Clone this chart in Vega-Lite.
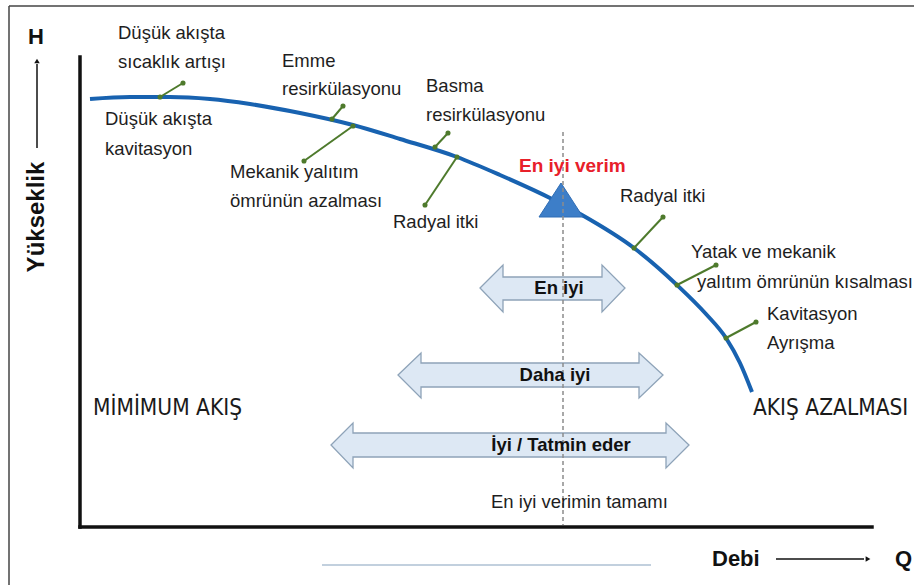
{
  "$schema": "https://vega.github.io/schema/vega-lite/v6.json",
  "width": 914,
  "height": 585,
  "padding": 0,
  "autosize": {"type": "none"},
  "background": "white",
  "view": {"stroke": null},
  "config": {"font": "Liberation Sans"},
  "datasets": {
    "frame": [
      {"x": 9, "y": 6, "x2": 914, "y2": 6},
      {"x": 9, "y": 6, "x2": 9, "y2": 585}
    ],
    "axes": [
      {"x": 80, "y": 57, "x2": 80, "y2": 527},
      {"x": 80, "y": 527, "x2": 872, "y2": 527}
    ],
    "smallArrows": [
      {"x": 37, "y": 148, "x2": 37, "y2": 64},
      {"x": 776, "y": 559, "x2": 864, "y2": 559}
    ],
    "headUp": [{"x": 37, "y": 61}],
    "headRight": [{"x": 868, "y": 559}],
    "bottomLine": [{"x": 322, "y": 565, "x2": 651, "y2": 565}],
    "blockArrows": [
      {"arrow": "En iyi", "x": 480, "y": 288, "y2": 288},
      {"arrow": "En iyi", "x": 503, "y": 265, "y2": 312},
      {"arrow": "En iyi", "x": 503, "y": 277, "y2": 300},
      {"arrow": "En iyi", "x": 602, "y": 277, "y2": 300},
      {"arrow": "En iyi", "x": 602, "y": 265, "y2": 312},
      {"arrow": "En iyi", "x": 625, "y": 288, "y2": 288},
      {"arrow": "Daha iyi", "x": 398, "y": 375, "y2": 375},
      {"arrow": "Daha iyi", "x": 421, "y": 353, "y2": 398},
      {"arrow": "Daha iyi", "x": 421, "y": 363, "y2": 387},
      {"arrow": "Daha iyi", "x": 639, "y": 363, "y2": 387},
      {"arrow": "Daha iyi", "x": 639, "y": 353, "y2": 398},
      {"arrow": "Daha iyi", "x": 663, "y": 375, "y2": 375},
      {"arrow": "İyi", "x": 331, "y": 445, "y2": 445},
      {"arrow": "İyi", "x": 353, "y": 423, "y2": 468},
      {"arrow": "İyi", "x": 353, "y": 433, "y2": 457},
      {"arrow": "İyi", "x": 666, "y": 433, "y2": 457},
      {"arrow": "İyi", "x": 666, "y": 423, "y2": 468},
      {"arrow": "İyi", "x": 689, "y": 445, "y2": 445}
    ],
    "bep": [
      {"x": 539, "y": 217, "y2": 217},
      {"x": 561, "y": 183, "y2": 217},
      {"x": 583, "y": 217, "y2": 217}
    ],
    "dashed": [{"x": 563, "y": 132, "x2": 563, "y2": 525}],
    "curve": [
      {"x": 90, "y": 99},
      {"x": 130, "y": 97},
      {"x": 170, "y": 97},
      {"x": 210, "y": 99},
      {"x": 250, "y": 104},
      {"x": 300, "y": 113},
      {"x": 353, "y": 125},
      {"x": 400, "y": 139},
      {"x": 457, "y": 157},
      {"x": 500, "y": 175},
      {"x": 552, "y": 199},
      {"x": 582, "y": 215},
      {"x": 634, "y": 248},
      {"x": 677, "y": 285},
      {"x": 706, "y": 314},
      {"x": 726, "y": 338},
      {"x": 740, "y": 363},
      {"x": 752, "y": 392}
    ],
    "leaders": [
      {"x": 160, "y": 97, "x2": 183, "y2": 83},
      {"x": 332, "y": 119, "x2": 343, "y2": 106},
      {"x": 353, "y": 126, "x2": 304, "y2": 161},
      {"x": 435, "y": 147, "x2": 448, "y2": 133},
      {"x": 457, "y": 157, "x2": 425, "y2": 205},
      {"x": 634, "y": 248, "x2": 663, "y2": 217},
      {"x": 677, "y": 285, "x2": 716, "y2": 265},
      {"x": 726, "y": 338, "x2": 756, "y2": 322}
    ],
    "labels": [
      {"t": "Düşük akışta", "x": 118, "y": 33},
      {"t": "sıcaklık artışı", "x": 118, "y": 62},
      {"t": "Emme", "x": 282, "y": 61},
      {"t": "resirkülasyonu", "x": 282, "y": 89},
      {"t": "Basma", "x": 426, "y": 86},
      {"t": "resirkülasyonu", "x": 426, "y": 115},
      {"t": "Düşük akışta", "x": 105, "y": 119},
      {"t": "kavitasyon", "x": 105, "y": 149},
      {"t": "Mekanik yalıtım", "x": 230, "y": 172},
      {"t": "ömrünün azalması", "x": 230, "y": 201},
      {"t": "Radyal itki", "x": 393, "y": 222},
      {"t": "Radyal itki", "x": 620, "y": 196},
      {"t": "Yatak ve mekanik", "x": 691, "y": 252},
      {"t": "yalıtım ömrünün kısalması", "x": 697, "y": 282},
      {"t": "Kavitasyon", "x": 767, "y": 314},
      {"t": "Ayrışma", "x": 767, "y": 343},
      {"t": "En iyi verimin tamamı", "x": 491, "y": 502}
    ],
    "arrowLabels": [
      {"t": "En iyi", "x": 559, "y": 288},
      {"t": "Daha iyi", "x": 555, "y": 375},
      {"t": "İyi / Tatmin eder", "x": 561, "y": 445}
    ],
    "boldLeft": [
      {"t": "Debi", "x": 712, "y": 559},
      {"t": "Q", "x": 895, "y": 559},
      {"t": "H", "x": 28, "y": 37}
    ],
    "red": [{"t": "En iyi verim", "x": 519, "y": 166}],
    "vertical": [{"t": "Yükseklik", "x": 37, "y": 217}],
    "big": [
      {"t": "MİMİMUM AKIŞ", "x": 93, "y": 408},
      {"t": "AKIŞ AZALMASI", "x": 753, "y": 408}
    ]
  },
  "encoding": {
    "x": {"field": "x", "type": "quantitative", "scale": {"domain": [0, 914], "nice": false, "zero": false}, "axis": null},
    "y": {"field": "y", "type": "quantitative", "scale": {"domain": [0, 585], "nice": false, "zero": false, "reverse": true}, "axis": null, "stack": null}
  },
  "layer": [
    {
      "data": {"name": "frame"},
      "mark": {"type": "rule", "color": "#444444", "strokeWidth": 1.5},
      "encoding": {"x2": {"field": "x2"}, "y2": {"field": "y2"}}
    },
    {
      "data": {"name": "bottomLine"},
      "mark": {"type": "rule", "color": "#c2d0de", "strokeWidth": 2},
      "encoding": {"x2": {"field": "x2"}, "y2": {"field": "y2"}}
    },
    {
      "data": {"name": "axes"},
      "mark": {"type": "rule", "color": "#111111", "strokeWidth": 3.5, "strokeCap": "square"},
      "encoding": {"x2": {"field": "x2"}, "y2": {"field": "y2"}}
    },
    {
      "data": {"name": "smallArrows"},
      "mark": {"type": "rule", "color": "#111111", "strokeWidth": 1.5},
      "encoding": {"x2": {"field": "x2"}, "y2": {"field": "y2"}}
    },
    {
      "data": {"name": "headUp"},
      "mark": {"type": "point", "shape": "triangle-up", "filled": true, "color": "#111111", "size": 30, "opacity": 1}
    },
    {
      "data": {"name": "headRight"},
      "mark": {"type": "point", "shape": "triangle-right", "filled": true, "color": "#111111", "size": 30, "opacity": 1}
    },
    {
      "data": {"name": "blockArrows"},
      "mark": {"type": "area", "orient": "vertical", "fill": "#dde8f4", "stroke": "#8ea3b8", "strokeWidth": 1.3, "fillOpacity": 1},
      "encoding": {"y2": {"field": "y2"}, "detail": {"field": "arrow"}}
    },
    {
      "data": {"name": "curve"},
      "mark": {"type": "line", "color": "#1862b0", "strokeWidth": 4, "interpolate": "monotone", "strokeCap": "butt"}
    },
    {
      "data": {"name": "bep"},
      "mark": {"type": "area", "orient": "vertical", "fill": "#3d7ec8", "stroke": "#2f6db5", "strokeWidth": 1, "fillOpacity": 1},
      "encoding": {"y2": {"field": "y2"}}
    },
    {
      "data": {"name": "dashed"},
      "mark": {"type": "rule", "color": "#8c8c8c", "strokeWidth": 1.5, "strokeDash": [4, 3]},
      "encoding": {"x2": {"field": "x2"}, "y2": {"field": "y2"}}
    },
    {
      "data": {"name": "leaders"},
      "mark": {"type": "rule", "color": "#4e7a2c", "strokeWidth": 2},
      "encoding": {"x2": {"field": "x2"}, "y2": {"field": "y2"}}
    },
    {
      "data": {"name": "leaders"},
      "mark": {"type": "point", "filled": true, "color": "#4e7a2c", "size": 26, "opacity": 1}
    },
    {
      "data": {"name": "leaders"},
      "mark": {"type": "point", "filled": true, "color": "#4e7a2c", "size": 26, "opacity": 1},
      "encoding": {"x": {"field": "x2", "type": "quantitative"}, "y": {"field": "y2", "type": "quantitative"}}
    },
    {
      "data": {"name": "labels"},
      "mark": {"type": "text", "align": "left", "baseline": "middle", "fontSize": 18.5, "font": "Liberation Sans", "color": "#1e1e1e"},
      "encoding": {"text": {"field": "t"}}
    },
    {
      "data": {"name": "arrowLabels"},
      "mark": {"type": "text", "align": "center", "baseline": "middle", "fontSize": 18.5, "fontWeight": "bold", "font": "Liberation Sans", "color": "#111111"},
      "encoding": {"text": {"field": "t"}}
    },
    {
      "data": {"name": "boldLeft"},
      "mark": {"type": "text", "align": "left", "baseline": "middle", "fontSize": 22, "fontWeight": "bold", "font": "Liberation Sans", "color": "#111111"},
      "encoding": {"text": {"field": "t"}}
    },
    {
      "data": {"name": "red"},
      "mark": {"type": "text", "align": "left", "baseline": "middle", "fontSize": 19, "fontWeight": "bold", "font": "Liberation Sans", "color": "#e8202a"},
      "encoding": {"text": {"field": "t"}}
    },
    {
      "data": {"name": "vertical"},
      "mark": {"type": "text", "align": "center", "baseline": "middle", "angle": 270, "fontSize": 24, "fontWeight": "bold", "font": "Liberation Sans", "color": "#111111"},
      "encoding": {"text": {"field": "t"}}
    },
    {
      "data": {"name": "big"},
      "mark": {"type": "text", "align": "left", "baseline": "middle", "fontSize": 22.5, "font": "DejaVu Sans Condensed", "color": "#1a1a1a"},
      "encoding": {"text": {"field": "t"}}
    }
  ]
}
